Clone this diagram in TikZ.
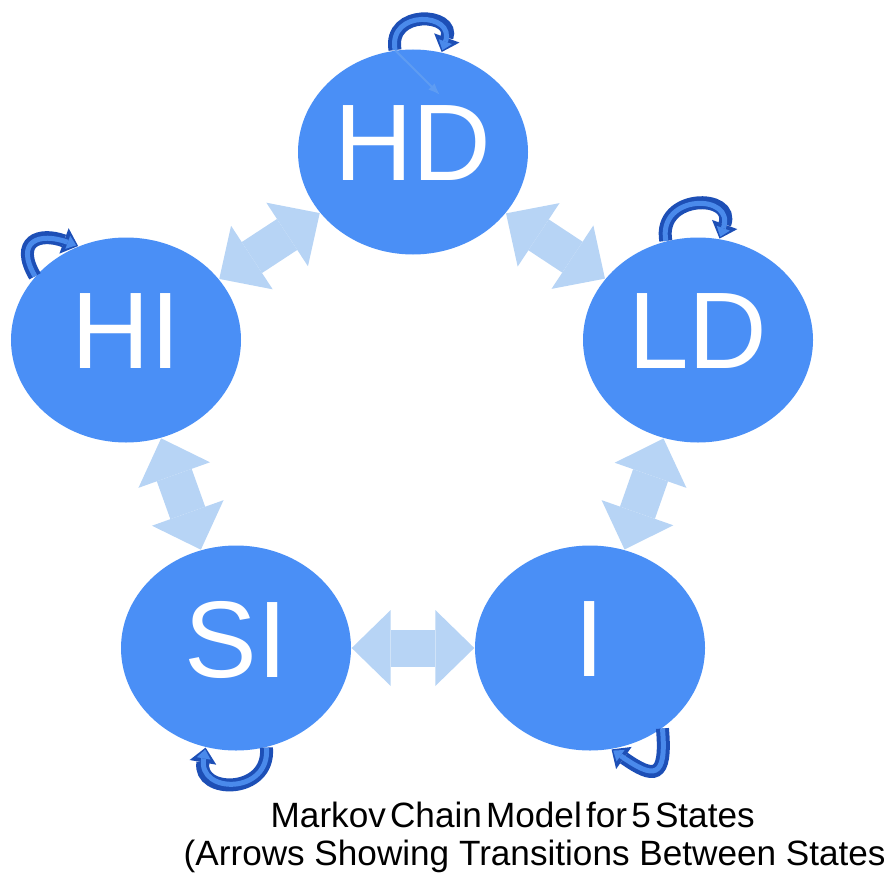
\documentclass[tikz,border=0pt]{standalone}
\usepackage{fontspec}
\setmainfont{Liberation Sans}
\usetikzlibrary{arrows.meta,shapes.geometric}

\definecolor{statefill}{HTML}{4A8FF6}
\definecolor{transfill}{HTML}{B7D4F5}
\definecolor{loopdark}{HTML}{1D4FB6}
\definecolor{looplight}{HTML}{4A8AEB}
\definecolor{faintblue}{HTML}{5E9CF2}

\begin{document}
\begin{tikzpicture}[
    state/.style ={ellipse, fill=statefill, text=white, inner sep=0pt,
      minimum width=2.3cm, minimum height=2.05cm, text depth=0.18cm,
      font=\fontsize{31}{31}\selectfont},
    trans/.style ={draw=transfill, line width=0.37cm,
      {Triangle[length=0.39cm,width=0.76cm,line width=0pt]}-{Triangle[length=0.39cm,width=0.76cm,line width=0pt]}},
    loopout/.style ={draw=loopdark, line width=0.13cm,
      -{Triangle[length=0.15cm,width=0.27cm,line width=0pt]}},
    loopin/.style ={draw=looplight, line width=0.05cm, shorten >=0.02cm,
      -{Triangle[length=0.09cm,width=0.14cm,line width=0pt]}},
    capline/.style ={anchor=base west, inner sep=0pt, font=\fontsize{10}{12}\selectfont}]

   \useasboundingbox (0,0) rectangle (8.84,-8.72);

   \node[state] (HD) at (4.13,-1.52) {HD};
   \node[state] (HI) at (1.26,-3.40) {HI};
   \node[state] (LD) at (6.98,-3.40) {LD};
   \node[state] (SI) at (2.36,-6.48) {SI};
   \node[state] (I)  at (5.90,-6.48) {I};

   % transitions between states
   \draw[trans] (HI) to (HD);
   \draw[trans] (HD) to (LD);
   \draw[trans] (LD) to (I);
   \draw[trans] (I)  to (SI);
   \draw[trans] (SI) to (HI);

   % staying in the same state
   \draw[loopout] (HD.100) to[out=100,in=70,looseness=2.3] (HD.74);
   \draw[loopin]  (HD.100) to[out=100,in=70,looseness=2.3] (HD.74);
   \draw[loopout] (LD.108) to[out=100,in=70,looseness=2.3] (LD.78);
   \draw[loopin]  (LD.108) to[out=100,in=70,looseness=2.3] (LD.78);
   \draw[loopout] (HI.145) to[out=120,in=160,looseness=2.0] (HI.117);
   \draw[loopin]  (HI.145) to[out=120,in=160,looseness=2.0] (HI.117);
   \draw[loopout] (SI.-73) to[out=-85,in=-100,looseness=2.0] (SI.-107);
   \draw[loopin]  (SI.-73) to[out=-85,in=-100,looseness=2.0] (SI.-107);
   \draw[loopout] (I.-48) to[out=-85,in=-35,looseness=2.4] (I.-78);
   \draw[loopin]  (I.-48) to[out=-85,in=-35,looseness=2.4] (I.-78);

   \coordinate (hdin) at (4.40,-0.95);
   \draw[faintblue, line width=0.6pt, -{Latex[length=0.12cm]}] (HD.100) to (hdin);

   \node[capline] (cap1) at (2.70,-8.27) {\spaceskip=0.12em Markov Chain Model for 5 States};
   \node[capline] (cap2) at (1.83,-8.65) {(Arrows Showing Transitions Between States};

 \end{tikzpicture}
\end{document}
